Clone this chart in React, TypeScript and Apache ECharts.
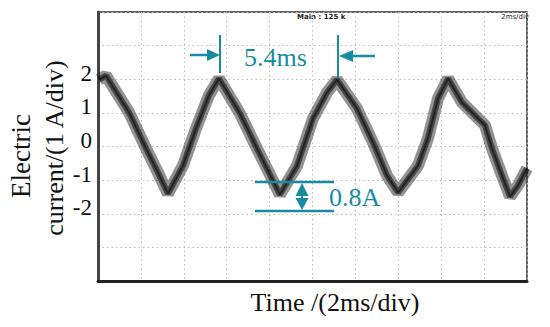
import React, { useEffect, useRef } from "react";
import * as echarts from "echarts";

// time in ms (10 divisions x 2 ms), current in A (grid divisions)
const timeMs = [0.05, 0.37, 1.45, 2.24, 2.7, 3.26, 3.96, 4.57, 5.17, 5.64, 6.62, 7.41, 8.48, 9.28, 10.02, 10.68, 11.14, 12.07, 12.82, 13.47, 13.99, 14.92, 15.38, 15.85, 16.32, 16.97, 17.58, 18.04, 18.37, 18.83, 19.21, 19.58, 20.0];
const currentA = [1.99, 2.11, 1.01, -0.06, -0.65, -1.4, -0.57, 0.54, 1.52, 2.02, 0.98, -0.06, -1.43, -0.57, 0.83, 1.61, 1.99, 1.13, 0.12, -0.86, -1.37, -0.57, 0.24, 1.43, 2.02, 1.31, 0.92, 0.63, -0.06, -0.86, -1.49, -1.16, -0.65];
const yTickValues = [-2, -1, 0, 1, 2];

const TEAL = "#178ca0";
const SERIF = "'Liberation Serif', 'Times New Roman', serif";

export default function App() {
  const ref = useRef<HTMLDivElement>(null);
  useEffect(() => {
    if (!ref.current) return;
    const chart = echarts.init(ref.current, null, { renderer: "svg" });
    const data = timeMs.map((t, i) => [t, currentA[i]]);
    chart.setOption({
      animation: false,
      textStyle: { fontFamily: SERIF },
      grid: { left: 98, right: 23, top: 12, bottom: 46, show: true, borderColor: "#333", borderWidth: 1.5 },
      xAxis: {
        type: "value", min: 0, max: 20, interval: 2,
        axisLine: { show: true, onZero: false, lineStyle: { color: "#222", width: 3 } },
        axisTick: { show: false }, axisLabel: { show: false },
        splitLine: { show: true, lineStyle: { color: "#bbb", type: [1.5, 3], width: 1 } },
      },
      yAxis: [
        {
          type: "value", min: -4, max: 4, interval: 1,
          axisLine: { show: true, onZero: false, lineStyle: { color: "#444", width: 3 } },
          axisTick: { show: false }, axisLabel: { show: false },
          splitLine: { show: true, lineStyle: { color: "#bbb", type: [1.5, 3], width: 1 } },
        },
        {
          type: "value", min: -4.18, max: 3.82, position: "left",
          axisLine: { show: false }, axisTick: { show: false }, splitLine: { show: false },
          axisLabel: {
            margin: 6, color: "#111", fontFamily: SERIF, fontSize: 23,
            customValues: yTickValues,
            formatter: "{s|{value}}",
            rich: { s: { fontFamily: SERIF, fontSize: 23, color: "#111" } },
          },
        },
      ],
      series: [
        { type: "line", data, symbol: "none", lineStyle: { color: "rgba(40,40,40,0.5)", width: 12 }, z: 2 },
        { type: "line", data, symbol: "none", lineStyle: { color: "rgba(10,10,10,0.55)", width: 6 }, z: 3 },
        { type: "line", data, symbol: "none", lineStyle: { color: "rgba(0,0,0,0.5)", width: 2 }, z: 4 },
      ],
      graphic: [
        { type: "text", left: 297, top: 13, style: { text: "Main : 125 k", font: "bold 7px 'DejaVu Sans', sans-serif", fill: "#222" } },
        { type: "text", x: 529, y: 17, style: { text: "2ms/div", font: "7px 'DejaVu Sans', sans-serif", fill: "#222", align: "right", verticalAlign: "middle" } },
        { type: "text", x: 335, y: 302, style: { text: "Time /(2ms/div)", font: `26px ${SERIF}`, fill: "#111", align: "center", verticalAlign: "middle" } },
        { type: "text", x: 21, y: 156, rotation: Math.PI / 2, style: { text: "Electric", font: `27px ${SERIF}`, fill: "#111", align: "center", verticalAlign: "middle" } },
        { type: "text", x: 54, y: 148, rotation: Math.PI / 2, style: { text: "current/(1 A/div)", font: `26px ${SERIF}`, fill: "#111", align: "center", verticalAlign: "middle" } },
        // 5.4ms annotation
        { type: "line", shape: { x1: 220, y1: 35, x2: 220, y2: 73 }, style: { stroke: TEAL, lineWidth: 2 }, z: 10 },
        { type: "line", shape: { x1: 190, y1: 55, x2: 209, y2: 55 }, style: { stroke: TEAL, lineWidth: 2.5 }, z: 10 },
        { type: "polygon", shape: { points: [[207, 49], [220, 55], [207, 61]] }, style: { fill: TEAL }, z: 10 },
        { type: "line", shape: { x1: 338, y1: 35, x2: 338, y2: 78 }, style: { stroke: TEAL, lineWidth: 2 }, z: 10 },
        { type: "line", shape: { x1: 351, y1: 56, x2: 375, y2: 56 }, style: { stroke: TEAL, lineWidth: 2.5 }, z: 10 },
        { type: "polygon", shape: { points: [[353, 50], [339, 56], [353, 62]] }, style: { fill: TEAL }, z: 10 },
        { type: "text", x: 244, y: 57, style: { text: "5.4ms", font: `26px ${SERIF}`, fill: TEAL, verticalAlign: "middle" }, z: 10 },
        // 0.8A annotation
        { type: "line", shape: { x1: 255, y1: 182, x2: 334, y2: 182 }, style: { stroke: TEAL, lineWidth: 2.5 }, z: 10 },
        { type: "line", shape: { x1: 255, y1: 211, x2: 334, y2: 211 }, style: { stroke: TEAL, lineWidth: 2.5 }, z: 10 },
        { type: "line", shape: { x1: 302, y1: 190, x2: 302, y2: 204 }, style: { stroke: TEAL, lineWidth: 2 }, z: 10 },
        { type: "polygon", shape: { points: [[302, 183], [295.5, 196], [308.5, 196]] }, style: { fill: TEAL }, z: 10 },
        { type: "polygon", shape: { points: [[295.5, 198], [308.5, 198], [302, 210]] }, style: { fill: TEAL }, z: 10 },
        { type: "text", x: 329, y: 197, style: { text: "0.8A", font: `26px ${SERIF}`, fill: TEAL, verticalAlign: "middle" }, z: 10 },
      ],
    });
    return () => chart.dispose();
  }, []);
  return <div ref={ref} style={{ width: 550, height: 327, position: "absolute", left: 0, top: 0, background: "#fff" }} />;
}
